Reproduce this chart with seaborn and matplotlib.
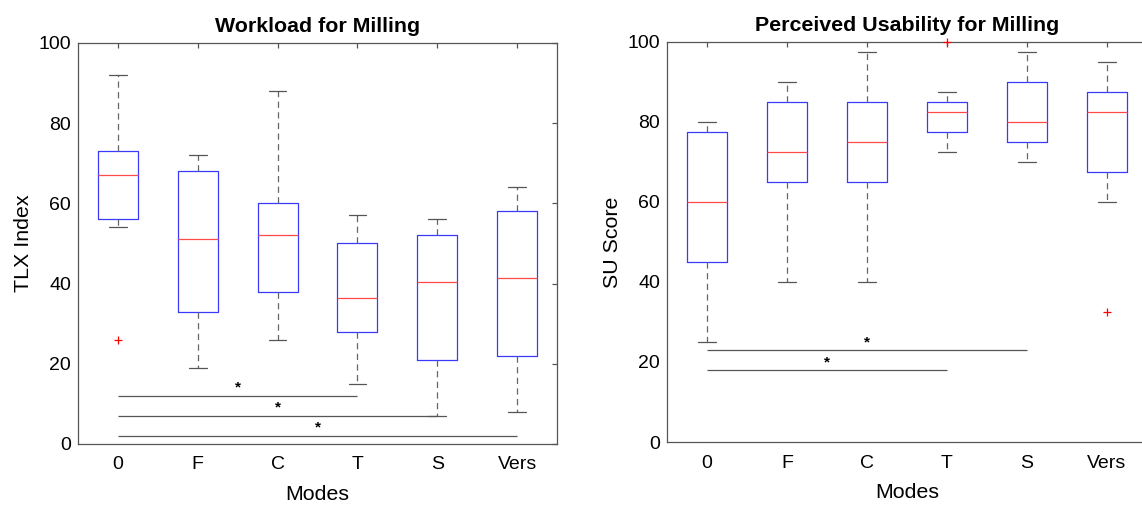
import matplotlib
matplotlib.use("Agg")
import matplotlib.pyplot as plt
import seaborn as sns

# Modes on the x axis
modes = ["0", "F", "C", "T", "S", "Vers"]

# Workload (TLX index) box stats
tlx_low = [54, 19, 26, 15, 7, 8]
tlx_q1 = [56, 33, 38, 28, 21, 22]
tlx_med = [67, 51, 52, 36.5, 40.5, 41.5]
tlx_q3 = [73, 68, 60, 50, 52, 58]
tlx_high = [92, 72, 88, 57, 56, 64]
tlx_out_mode = ["0"]
tlx_out_val = [26]
# significance bars: from mode 0 to mode, at level
tlx_sig_to = ["T", "S", "Vers"]
tlx_sig_y = [12, 7, 2]

# Perceived usability (SU score)
su_low = [25, 40, 40, 72.5, 70, 60]
su_q1 = [45, 65, 65, 77.5, 75, 67.5]
su_med = [60, 72.5, 75, 82.5, 80, 82.5]
su_q3 = [77.5, 85, 85, 85, 90, 87.5]
su_high = [80, 90, 97.5, 87.5, 97.5, 95]
su_out_mode = ["T", "Vers"]
su_out_val = [100, 32.5]
su_sig_to = ["S", "T"]
su_sig_y = [23, 18]

sns.set_style("white")
plt.rcParams['font.family'] = ['Liberation Sans', 'DejaVu Sans']
plt.rcParams['text.color'] = 'black'
plt.rcParams['axes.labelcolor'] = 'black'
plt.rcParams['xtick.labelcolor'] = 'black'
plt.rcParams['ytick.labelcolor'] = 'black'

fig = plt.figure(figsize=(11.42, 5.07), dpi=100)
ax1 = fig.add_axes([0.0683, 0.1243, 0.4194, 0.791])
ax2 = fig.add_axes([0.5841, 0.1282, 0.4203, 0.789])


def draw(ax, low, q1, med, q3, high, out_mode, out_val, sig_to, sig_y, title, ylabel):
    stats = []
    for i, m in enumerate(modes):
        stats.append({'label': m, 'whislo': low[i], 'q1': q1[i], 'med': med[i],
                      'q3': q3[i], 'whishi': high[i], 'fliers': []})
    pos = list(range(1, len(modes) + 1))
    ax.bxp(stats, positions=pos, widths=0.5, showfliers=False,
           boxprops=dict(color='#3a3aff', linewidth=0.9),
           medianprops=dict(color='#ff4a4a', linewidth=0.9),
           whiskerprops=dict(color='#666666', linewidth=0.9, linestyle=(0, (5, 3.5))),
           capprops=dict(color='#555555', linewidth=0.9), capwidths=0.22)
    # outliers
    xs = [modes.index(m) + 1 for m in out_mode]
    sns.scatterplot(x=xs, y=out_val, ax=ax, marker='+', color='red', s=30,
                    linewidth=0.9, zorder=3, clip_on=False)
    # significance bars with stars
    for m, y in zip(sig_to, sig_y):
        x_end = modes.index(m) + 1
        ax.hlines(y, 1, x_end, color='#555555', linewidth=0.9)
        ax.text((1 + x_end) / 2, y + 2.0, '*', ha='center', va='center',
                fontsize=11, fontweight='bold', color='black')
    ax.set_xlim(0.5, len(modes) + 0.5)
    ax.set_ylim(0, 100)
    ax.set_xticks(pos)
    ax.set_xticklabels(modes)
    ax.set_yticks([0, 20, 40, 60, 80, 100])
    ax.tick_params(direction='in', length=3.5, width=0.9, color='#555555',
                   top=True, right=True, labelsize=14, labelcolor='black')
    ax.tick_params(axis='x', pad=9)
    ax.tick_params(axis='y', pad=5)
    for s in ax.spines.values():
        s.set_color('#555555')
        s.set_linewidth(0.9)
        s.set_visible(True)
    ax.set_xlabel('Modes', fontsize=15.4, labelpad=8)
    ax.set_ylabel(ylabel, fontsize=15.4, labelpad=4)
    ax.set_title(title, fontsize=15.4, fontweight='bold', pad=8)


draw(ax1, tlx_low, tlx_q1, tlx_med, tlx_q3, tlx_high, tlx_out_mode, tlx_out_val,
     tlx_sig_to, tlx_sig_y, 'Workload for Milling', 'TLX Index')
draw(ax2, su_low, su_q1, su_med, su_q3, su_high, su_out_mode, su_out_val,
     su_sig_to, su_sig_y, 'Perceived Usability for Milling', 'SU Score')

fig.savefig("out.png", dpi=100)
